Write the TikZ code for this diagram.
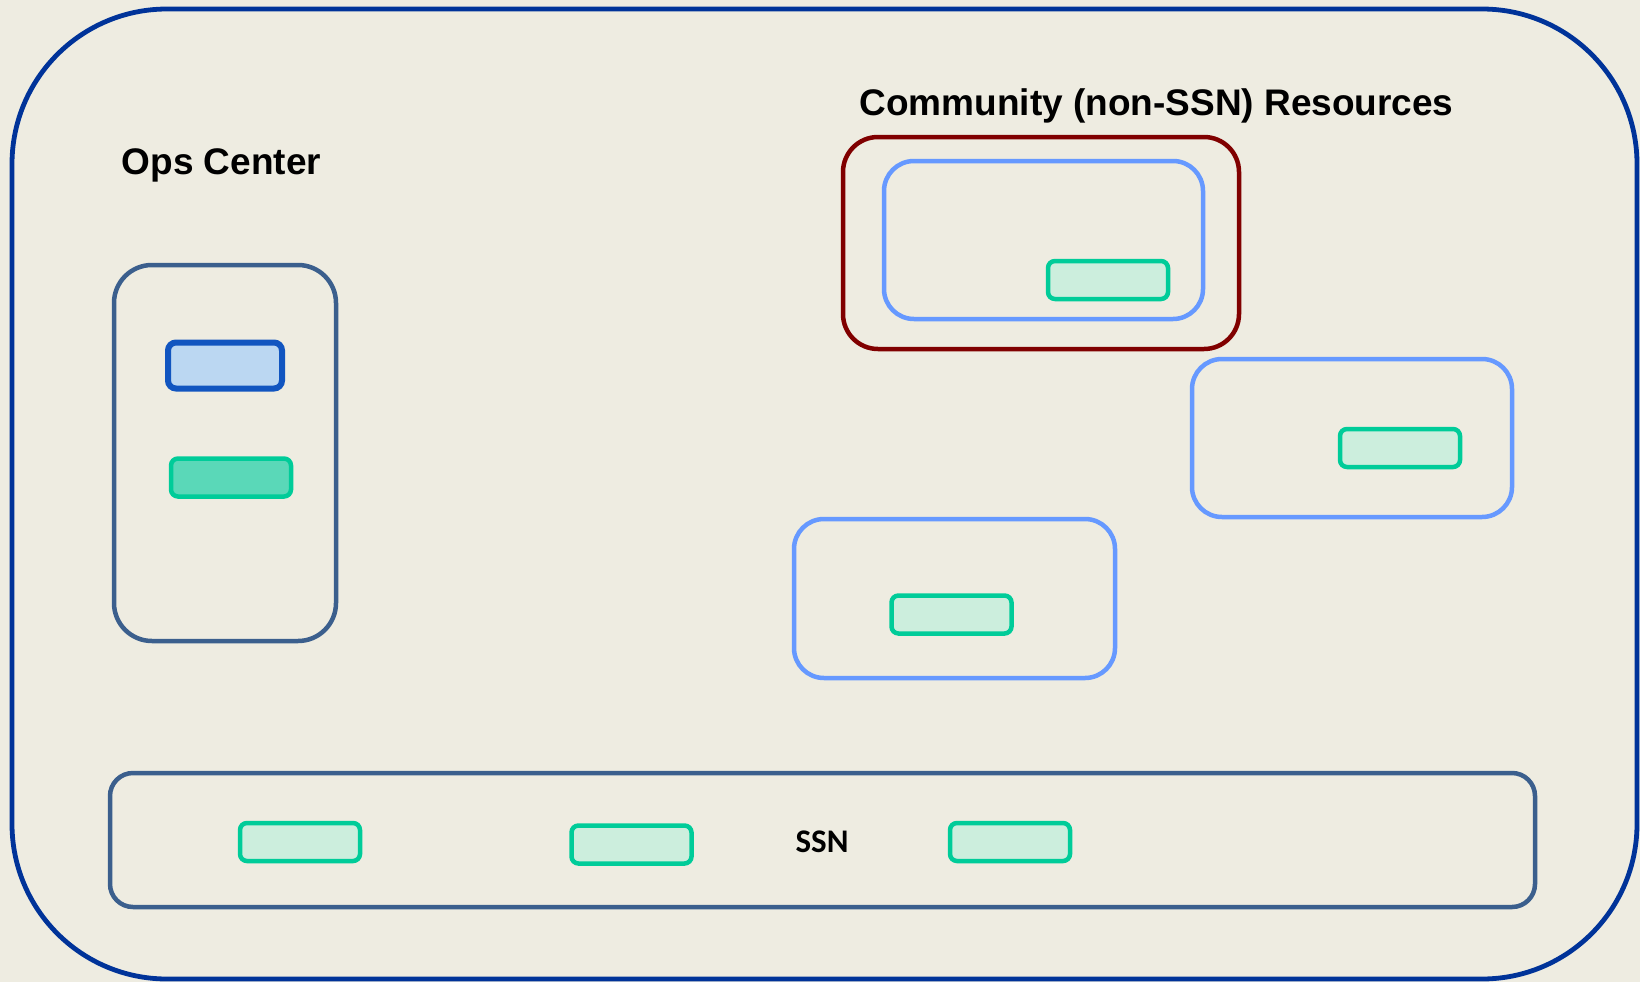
\documentclass[tikz,border=0pt]{standalone}
\usepackage{fontspec}
\setmainfont{Liberation Sans}
\newfontfamily\calib{Carlito}
\definecolor{bgc}{HTML}{EEECE1}
\definecolor{outerc}{HTML}{003399}
\definecolor{slatec}{HTML}{3B5F8D}
\definecolor{bluedk}{HTML}{1155C0}
\definecolor{bluelt}{HTML}{BBD7F2}
\definecolor{greenc}{HTML}{00CC99}
\definecolor{greenmid}{HTML}{5AD8B8}
\definecolor{greenlt}{HTML}{CCEEDD}
\definecolor{redc}{HTML}{800000}
\definecolor{skyc}{HTML}{6699FF}
\begin{document}
\begin{tikzpicture}[x=1pt,y=-1pt,
  boxbase/.style={rectangle,inner sep=0pt,outer sep=0pt},
  outerbox/.style={boxbase,draw=outerc,line width=4.8pt,rounded corners=155pt},
  slatebox/.style={boxbase,draw=slatec,line width=4.5pt},
  sitebox/.style={boxbase,draw=skyc,line width=4.5pt,rounded corners=30pt},
  redbox/.style={boxbase,draw=redc,line width=4.5pt,rounded corners=35pt},
  resbox/.style={boxbase,draw=greenc,fill=greenlt,line width=4.5pt,rounded corners=7pt,minimum width=120pt,minimum height=38pt},
  opsgreen/.style={resbox,fill=greenmid},
  opsblue/.style={boxbase,draw=bluedk,fill=bluelt,line width=6pt,rounded corners=8pt,minimum width=114pt,minimum height=46pt},
  title/.style={font=\fontsize{37}{44}\selectfont\bfseries,anchor=base,inner sep=0pt},
  ssnlabel/.style={font=\calib\bfseries\fontsize{33}{40}\selectfont,anchor=base,inner sep=0pt}
]
\fill[bgc] (0,0) rectangle (1640,982);
\useasboundingbox (0,0) rectangle (1640,982);
\node[outerbox,minimum width=1625pt,minimum height=970pt] (outer) at (824.5,494) {};
% Ops Center
\node[title] (opslabel) at (221.5,174) {Ops Center};
\node[slatebox,rounded corners=38pt,minimum width=222pt,minimum height=376pt] (ops) at (225,453) {};
\node[opsblue] (opsb) at (225,365.5) {};
\node[opsgreen] (opsg) at (231,477.5) {};
% Community
\node[title] (comlabel) at (1156.5,115) {Community (non-SSN) Resources};
\node[redbox,minimum width=396pt,minimum height=212pt] (com) at (1041,243) {};
\node[sitebox,minimum width=319pt,minimum height=158pt] (site1) at (1043.5,240) {};
\node[resbox] (r1) at (1108,280) {};
\node[sitebox,minimum width=320pt,minimum height=158pt] (site2) at (1352,438) {};
\node[resbox] (r2) at (1400,448) {};
\node[sitebox,minimum width=321pt,minimum height=159pt] (site3) at (954.5,598.5) {};
\node[resbox] (r3) at (951.5,614.5) {};
% SSN
\node[slatebox,rounded corners=23pt,minimum width=1425pt,minimum height=134pt] (ssn) at (822.5,840) {};
\node[ssnlabel] (ssnl) at (822,852) {SSN};
\node[resbox] (s1) at (300,842) {};
\node[resbox] (s2) at (631.5,844.5) {};
\node[resbox] (s3) at (1010,842) {};
\end{tikzpicture}
\end{document}
